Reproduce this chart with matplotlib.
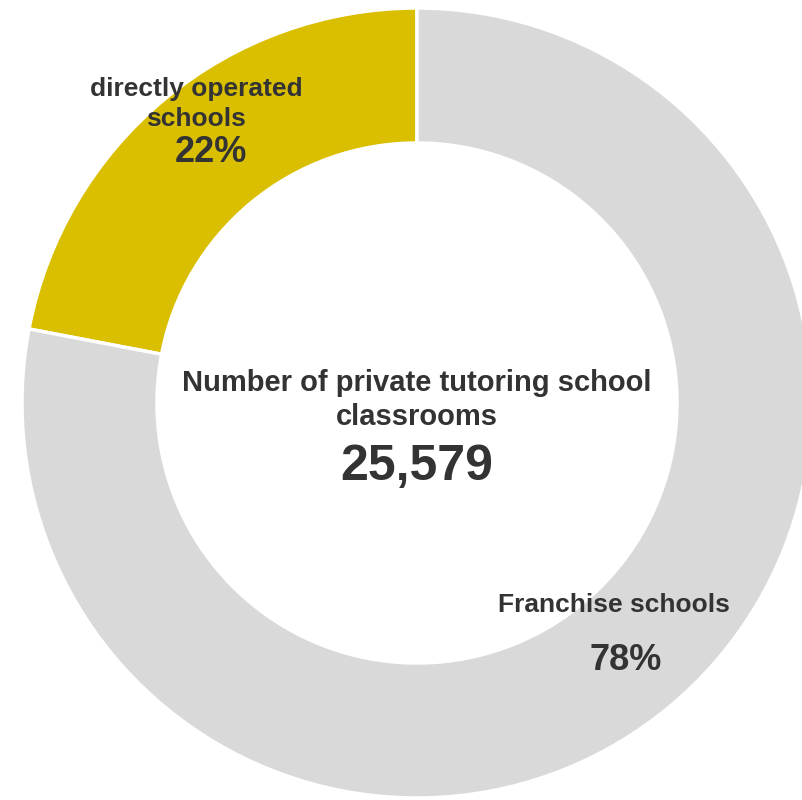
import matplotlib
matplotlib.use("Agg")
import matplotlib.pyplot as plt

# share of classrooms by operation type
labels = ["directly operated\nschools", "Franchise schools"]
shares = [22, 78]
colors = ["#D9BF00", "#D9D9D9"]
total_classrooms = 25579
center_title = "Number of private tutoring school\nclassrooms"

plt.rcParams["font.family"] = ["Liberation Sans", "DejaVu Sans"]
text_color = "#333333"

W, H = 803, 800
fig = plt.figure(figsize=(W / 100, H / 100), dpi=100)
ax = fig.add_axes([0, 0, 1, 1])

cx, cy = 417, H - 403
r_out, ring = 395, 135

ax.pie(shares, colors=colors, startangle=90, counterclock=True,
       center=(cx, cy), radius=r_out, frame=True,
       wedgeprops=dict(width=ring, edgecolor="white", linewidth=2.5))
ax.set_xlim(0, W)
ax.set_ylim(0, H)
ax.set_aspect("equal")
ax.axis("off")

# segment labels
ax.text(196, H - 104, labels[0], ha="center", va="center", fontsize=19,
        fontweight="bold", color=text_color, linespacing=1.28)
ax.text(211, H - 153, f"{shares[0]}%", ha="center", va="center", fontsize=26,
        fontweight="bold", color=text_color)
ax.text(614, H - 605, labels[1], ha="center", va="center", fontsize=19,
        fontweight="bold", color=text_color)
ax.text(626, H - 661, f"{shares[1]}%", ha="center", va="center", fontsize=26,
        fontweight="bold", color=text_color)

# total in the middle
ax.text(cx, H - 400, center_title, ha="center", va="center", fontsize=21,
        fontweight="bold", color=text_color, linespacing=1.28)
ax.text(cx, H - 467, f"{total_classrooms:,}", ha="center", va="center",
        fontsize=36, fontweight="bold", color=text_color)

fig.savefig("out.png", dpi=100, facecolor="white")
